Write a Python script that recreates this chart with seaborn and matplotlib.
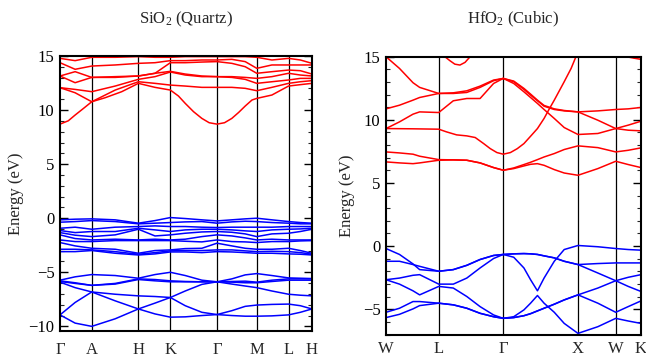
import numpy as np
import pandas as pd
import matplotlib
matplotlib.use("Agg")
import matplotlib.pyplot as plt
import seaborn as sns
from matplotlib.ticker import MultipleLocator

nan = np.nan

# ---------------- SiO2 (Quartz) ----------------
sio2_k = [0.0, 0.060, 0.126, 0.219, 0.311, 0.377, 0.438, 0.497, 0.563,
          0.623, 0.682, 0.735, 0.781, 0.841, 0.907, 0.954, 1.0]
sio2_labels = ["Γ", "A", "H", "K", "Γ", "M", "L", "H"]
sio2_label_k = [0.0, 0.126, 0.311, 0.438, 0.623, 0.781, 0.907, 1.0]

# lowest conduction band, read more densely
sio2_cb1_k = [0.0, 0.033, 0.060, 0.093, 0.126, 0.179, 0.245, 0.311, 0.377, 0.438,
              0.470, 0.497, 0.530, 0.563, 0.592, 0.623, 0.653, 0.682, 0.709, 0.735,
              0.762, 0.781, 0.841, 0.907, 0.954, 1.0]
sio2_cb1_e = [8.70, 9.01, 9.54, 10.15, 10.77, 11.14, 11.70, 12.47, 12.10, 11.85,
              11.30, 10.62, 9.85, 9.23, 8.83, 8.70, 8.83, 9.23, 9.78, 10.37,
              10.93, 11.08, 11.39, 12.22, 12.35, 12.47]

# other conduction bands (eV), one row per k point, 6 bands
sio2_cond_by_k = [
    [12.07, 12.07, 13.15, 13.15, 14.38, 14.78],
    [11.60, 11.91, 12.53, 13.55, 13.77, 14.57],
    [10.77, 11.70, 13.02, 13.02, 14.07, 14.88],
    [11.85, 12.22, 13.02, 13.09, 14.17, 14.88],
    [12.62, 12.84, 13.15, 13.15, 14.32, 14.94],
    [12.47, 13.09, 13.40, 13.40, 14.38, 14.88],
    [12.31, 13.52, 13.58, 14.38, 14.57, 14.88],
    [12.22, 13.24, 13.33, 14.38, 14.57, 14.94],
    [12.10, 13.09, 13.15, 14.44, 14.63, 14.94],
    [12.10, 13.09, 13.09, 14.48, 14.63, 14.94],
    [12.10, 13.02, 13.09, 14.32, 14.69, 14.94],
    [12.01, 12.84, 13.02, 14.01, 14.48, 14.94],
    [11.79, 12.47, 12.93, 13.40, 13.86, 14.88],
    [12.10, 12.62, 13.09, 13.55, 14.17, 14.63],
    [12.47, 12.78, 13.40, 13.70, 14.17, 14.78],
    [12.62, 12.93, 13.24, 13.64, 14.17, 14.63],
    [12.72, 12.93, 13.15, 13.33, 14.17, 14.32],
]

# upper valence band manifold (eV), one row per k point, 10 bands
sio2_vup_by_k = [
    [-0.15, -0.37, -0.93, -1.14, -1.33, -1.54, -2.01, -2.25, -2.87, -3.09],
    [-0.09, -0.31, -0.83, -1.33, -1.57, -1.88, -2.16, -2.56, -2.87, -3.09],
    [-0.06, -0.22, -1.02, -1.23, -1.70, -2.01, -2.16, -2.78, -2.93, -2.99],
    [-0.15, -0.31, -0.83, -1.23, -1.54, -1.94, -2.07, -2.87, -3.09, -3.24],
    [-0.46, -0.52, -0.77, -0.93, -1.02, -2.01, -2.07, -3.24, -3.33, -3.40],
    [-0.22, -0.46, -0.71, -1.08, -1.64, -1.94, -2.07, -2.99, -3.18, -3.30],
    [0.06, -0.40, -0.77, -1.23, -1.54, -2.01, -2.07, -2.93, -3.02, -3.12],
    [-0.03, -0.34, -0.77, -1.08, -1.39, -1.94, -2.13, -2.81, -2.99, -3.12],
    [-0.15, -0.31, -0.83, -1.02, -1.27, -1.70, -2.19, -2.78, -2.99, -3.18],
    [-0.25, -0.46, -0.86, -1.02, -1.23, -1.54, -2.01, -2.31, -2.93, -3.09],
    [-0.15, -0.34, -0.83, -1.08, -1.30, -1.64, -2.16, -2.56, -2.93, -3.12],
    [-0.06, -0.28, -0.83, -1.17, -1.45, -1.82, -2.19, -2.78, -3.02, -3.18],
    [0.00, -0.31, -0.83, -1.23, -1.70, -2.01, -2.25, -2.87, -3.09, -3.24],
    [-0.15, -0.40, -0.83, -1.08, -1.45, -1.94, -2.16, -2.87, -3.06, -3.24],
    [-0.31, -0.46, -0.77, -1.02, -1.39, -2.01, -2.16, -2.78, -3.09, -3.30],
    [-0.40, -0.52, -0.77, -0.99, -1.23, -2.01, -2.10, -2.99, -3.18, -3.33],
    [-0.46, -0.52, -0.77, -0.93, -1.02, -2.01, -2.07, -3.24, -3.33, -3.40],
]

# lower valence bands (eV), one list per band over sio2_k
sio2_vlow_bands = [
    [-5.73, -5.42, -5.21, -5.30, -5.55, -5.21, -5.00, -5.30, -5.73, -5.88, -5.61, -5.24, -5.12, -5.30, -5.52, -5.55, -5.58],
    [-5.79, -5.97, -6.21, -6.03, -5.61, -5.67, -5.79, -5.85, -5.88, -5.88, -5.85, -5.82, -5.91, -5.73, -5.61, -5.61, -5.61],
    [-5.85, -6.03, -6.21, -6.09, -5.67, -5.79, -5.88, -5.88, -5.88, -5.88, -5.91, -5.97, -5.97, -5.85, -5.73, -5.73, -5.73],
    [-5.91, -6.42, -6.82, -7.03, -7.18, -7.24, -7.33, -6.73, -6.12, -5.88, -6.09, -6.27, -6.42, -6.73, -7.03, -7.12, -7.18],
    [-8.94, -7.79, -6.82, -7.64, -8.39, -7.85, -7.33, -8.09, -8.70, -8.91, -8.55, -8.15, -8.03, -7.97, -7.94, -8.09, -8.39],
    [-8.94, -9.70, -10.00, -9.30, -8.39, -8.85, -9.15, -9.12, -9.00, -8.91, -9.00, -9.06, -9.06, -9.03, -8.94, -8.70, -8.39],
]

# ---------------- HfO2 (Cubic) ----------------
hfo2_k = [0.0, 0.053, 0.106, 0.132, 0.207, 0.264, 0.317, 0.369, 0.422, 0.460, 0.501,
          0.541, 0.567, 0.594, 0.620, 0.660, 0.699, 0.753, 0.831, 0.901, 0.950, 1.0]
hfo2_labels = ["W", "L", "Γ", "X", "W", "K"]
hfo2_label_k = [0.0, 0.207, 0.460, 0.753, 0.901, 1.0]

hfo2_cond_bands = [
    [6.67, 6.59, 6.53, 6.59, 6.80, 6.83, 6.80, 6.59, 6.22, 6.01, 6.14, 6.35, 6.48, 6.53, 6.40, 6.06, 5.79, 5.61, 6.14, 6.72, 6.46, 6.22],
    [7.46, 7.38, 7.28, 7.12, 6.85, 6.83, 6.80, 6.59, 6.22, 6.01, 6.19, 6.46, 6.64, 6.85, 7.06, 7.33, 7.65, 7.94, 7.80, 7.46, 7.59, 7.78],
    [9.31, 9.84, 10.45, 10.63, 10.58, 11.51, 11.69, 11.69, 12.88, 13.28, 12.88, 12.22, 11.77, 11.30, 10.82, 10.11, 9.39, 8.84, 8.92, 9.31, 9.58, 9.89],
    [10.87, 11.16, 11.56, 11.77, 12.09, 12.09, 12.17, 12.57, 13.10, 13.28, 13.02, 12.41, 11.96, 11.51, 11.08, 10.82, 10.71, 10.63, 10.71, 10.82, 10.87, 10.98],
    [15.00, 14.07, 12.94, 12.57, 12.09, 12.14, 12.30, 12.67, 13.15, 13.28, 13.07, 12.49, 12.04, 11.56, 11.14, 10.87, 10.74, 10.63, 9.97, 9.31, 9.18, 9.13],
]
# band that runs flat from W, dips at Gamma and leaves the frame before X
hfo2_c3_k = [0.0, 0.106, 0.207, 0.237, 0.277, 0.317, 0.350, 0.383, 0.409, 0.435, 0.460,
             0.488, 0.515, 0.541, 0.567, 0.594, 0.620, 0.640, 0.660, 0.699, 0.726, 0.745, 0.753]
hfo2_c3_e = [9.31, 9.29, 9.26, 9.05, 8.81, 8.73, 8.60, 8.12, 7.72, 7.41, 7.28,
             7.41, 7.72, 8.12, 8.70, 9.31, 10.11, 10.85, 11.56, 13.02, 14.07, 15.0, 15.32]
# short pieces of higher bands that dip below the 15 eV frame
hfo2_top1_k = [0.231, 0.251, 0.270, 0.290, 0.310, 0.330]
hfo2_top1_e = [15.0, 14.68, 14.41, 14.34, 14.55, 15.0]
hfo2_top2_k = [0.943, 0.971, 1.0]
hfo2_top2_e = [15.0, 14.89, 14.79]

hfo2_val_bands = [
    [-0.19, -0.66, -1.41, -1.86, -1.99, -1.86, -1.52, -1.06, -0.74, -0.66, -0.88, -1.73, -2.66, -3.54, -2.53, -1.20, -0.27, 0.05, -0.05, -0.19, -0.27, -0.32],
    [-1.20, -1.20, -1.46, -1.60, -1.99, -1.86, -1.52, -1.06, -0.74, -0.66, -0.61, -0.59, -0.61, -0.66, -0.77, -0.93, -1.20, -1.46, -1.38, -1.33, -1.33, -1.33],
    [-2.66, -2.53, -2.31, -2.26, -3.01, -3.01, -2.53, -1.73, -0.98, -0.66, -0.61, -0.59, -0.61, -0.66, -0.77, -0.93, -1.20, -1.46, -2.13, -2.74, -3.19, -3.59],
    [-2.66, -3.01, -3.54, -3.86, -3.19, -3.32, -3.99, -4.79, -5.45, -5.72, -5.59, -5.05, -4.52, -3.91, -4.52, -5.24, -6.12, -6.91, -6.38, -5.72, -5.93, -6.12],
    [-5.24, -4.92, -4.39, -4.39, -4.52, -4.65, -4.92, -5.32, -5.59, -5.72, -5.66, -5.51, -5.35, -5.13, -4.92, -4.60, -4.26, -3.86, -3.32, -2.74, -2.47, -2.26],
    [-5.66, -5.40, -4.97, -4.71, -4.52, -4.65, -4.92, -5.32, -5.59, -5.72, -5.66, -5.51, -5.35, -5.13, -4.92, -4.60, -4.26, -3.86, -4.52, -5.24, -4.79, -4.34],
]

titles = ["SiO$_2$ (Quartz)", "HfO$_2$ (Cubic)"]
ylims = [(-10.4, 15), (-7, 15)]
ylabel = "Energy (eV)"


def build_frame(pieces):
    rows = []
    bid = 0
    for kind, kk, bands in pieces:
        for band in bands:
            for k, e in zip(kk, band):
                if not np.isnan(e):
                    rows.append({"k": k, "E": e, "band": bid, "kind": kind})
            bid += 1
    return pd.DataFrame(rows)


sio2_df = build_frame([
    ("cond", sio2_cb1_k, [sio2_cb1_e]),
    ("cond", sio2_k, np.array(sio2_cond_by_k).T),
    ("val", sio2_k, np.array(sio2_vup_by_k).T),
    ("val", sio2_k, sio2_vlow_bands),
])
hfo2_df = build_frame([
    ("cond", hfo2_k, hfo2_cond_bands),
    ("cond", hfo2_c3_k, [hfo2_c3_e]),
    ("cond", hfo2_top1_k, [hfo2_top1_e]),
    ("cond", hfo2_top2_k, [hfo2_top2_e]),
    ("val", hfo2_k, hfo2_val_bands),
])

sns.set_theme(style="ticks")
plt.rcParams["font.family"] = ["Liberation Serif", "DejaVu Serif"]
plt.rcParams["mathtext.fontset"] = "custom"
plt.rcParams["mathtext.rm"] = "Liberation Serif"
plt.rcParams["mathtext.it"] = "Liberation Serif:italic"

fig = plt.figure(figsize=(6.46, 3.58), dpi=100)
ax1 = fig.add_axes([0.0929, 0.0763, 0.390, 0.7673])
ax2 = fig.add_axes([0.5975, 0.0656, 0.3947, 0.776])

palette = {"cond": "#ff0000", "val": "#0000ff"}
panels = [
    (ax1, sio2_df, sio2_label_k, sio2_labels, 8),
    (ax2, hfo2_df, hfo2_label_k, hfo2_labels, 5),
]
for i, (ax, df, lk, lab, xpad) in enumerate(panels):
    sns.lineplot(data=df, x="k", y="E", units="band", hue="kind", palette=palette,
                 estimator=None, sort=False, linewidth=1.1, legend=False, ax=ax)
    for kx in lk[1:-1]:
        ax.axvline(kx, color="black", lw=0.9, zorder=0)
    ax.set_xlim(0, 1)
    ax.set_ylim(*ylims[i])
    ax.set_xticks(lk)
    ax.set_xticklabels(lab)
    ax.set_xlabel("")
    ax.set_ylabel("")
    ax.yaxis.set_major_locator(MultipleLocator(5))
    ax.yaxis.set_minor_locator(MultipleLocator(1))
    ax.tick_params(axis="y", which="major", direction="in", length=6, width=1.0,
                   left=True, right=True, labelsize=12, pad=4, colors="black")
    ax.tick_params(axis="y", which="minor", direction="in", length=3, width=0.8,
                   left=True, right=True)
    ax.tick_params(axis="x", which="both", length=0, labelsize=12, pad=xpad)
    for sp in ax.spines.values():
        sp.set_visible(True)
        sp.set_linewidth(1.5)
        sp.set_color("black")
    pos = ax.get_position()
    fig.text((pos.x0 + pos.x1) / 2, 0.947, titles[i], ha="center", va="center", fontsize=12)
    fig.text(pos.x0 - 0.068 if i == 0 else pos.x0 - 0.06, (pos.y0 + pos.y1) / 2, ylabel,
             rotation=90, ha="center", va="center", fontsize=12)

fig.savefig("out.png", dpi=100)
